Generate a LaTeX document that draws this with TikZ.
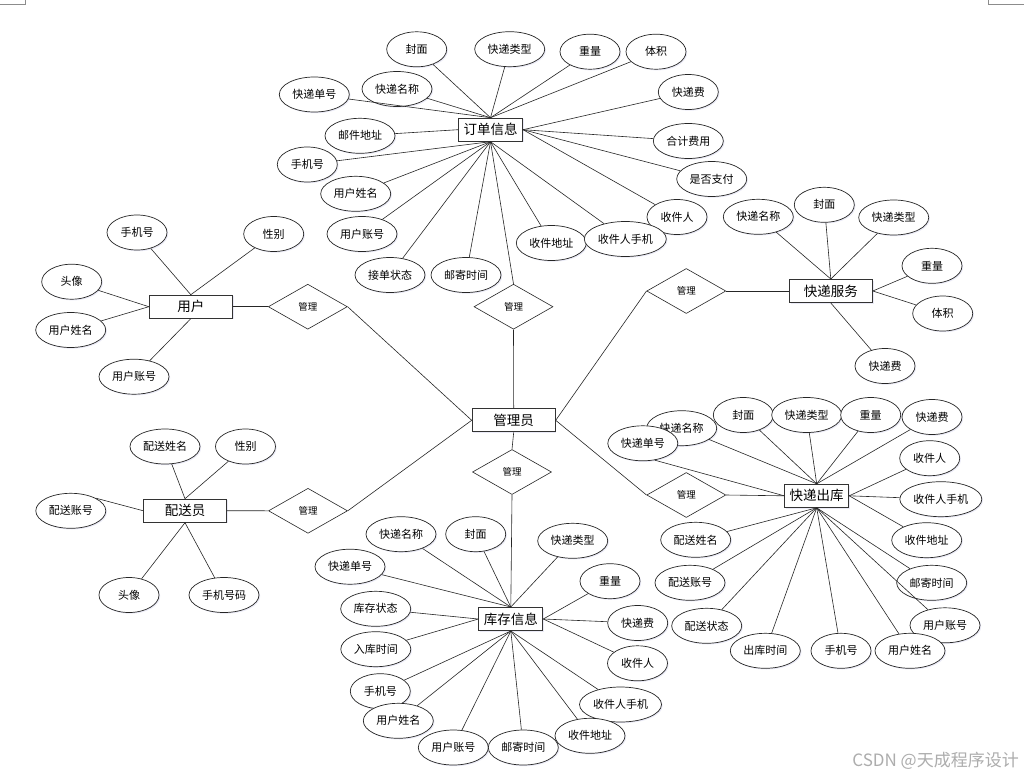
\documentclass[tikz,border=0pt]{standalone}
\usepackage{fontspec}
\setmainfont{Noto Sans CJK SC}
\usetikzlibrary{shapes.geometric,shadows}
\begin{document}
\begin{tikzpicture}[x=1pt,y=-1pt,
  shd/.style={drop shadow={shadow xshift=1.2pt,shadow yshift=-1.2pt,fill=black!40!blue!50,opacity=0.16}},
  attr/.style={ellipse,draw=black!85,line width=0.7pt,fill=white,shd,minimum width=70pt,minimum height=35pt,inner sep=0pt,font=\fontsize{11}{11}\selectfont},
  a2/.style={attr,minimum width=60pt},
  a5/.style={attr,minimum width=82pt},
  ent/.style={rectangle,draw=black!80,line width=1pt,fill=white,shd,minimum width=83pt,minimum height=23pt,inner sep=0pt,font=\fontsize{13.5}{13.5}\selectfont},
  rel/.style={diamond,draw=black!85,line width=0.6pt,fill=white,minimum width=79pt,minimum height=45pt,inner sep=0pt,font=\fontsize{9.5}{9.5}\selectfont},
  ln/.style={draw=black!85,line width=0.6pt}
]
\fill[white] (0,0) rectangle (1024,779);
\path[use as bounding box] (0,0) rectangle (1024,779);
\draw[black!45,line width=0.6pt] (0,4.5) -- (25,4.5) -- (25,0);
\draw[black!45,line width=0.6pt] (1024,4.5) -- (988,4.5) -- (988,0);

% ---------- 订单信息 ----------
\node[ent,minimum width=64pt] (ord) at (490.5,129.7) {订单信息};
\node[a2] (o1) at (416.7,49.3) {封面};
\node[attr] (o2) at (509.7,49.2) {快递类型};
\node[a2] (o3) at (590,51.7) {重量};
\node[a2] (o4) at (656,51.7) {体积};
\node[a2] (o5) at (688.3,92) {快递费};
\node[attr] (o6) at (688.3,141) {合计费用};
\node[attr] (o7) at (711.7,179) {是否支付};
\node[a2] (o8) at (677,217) {收件人};
\node[attr] (o10) at (551.3,243) {收件地址};
\node[a5] (o9) at (625.3,239) {收件人手机};
\node[attr] (o11) at (466,275) {邮寄时间};
\node[attr] (o12) at (390,275) {接单状态};
\node[attr] (o13) at (362,234) {用户账号};
\node[attr] (o14) at (355.7,193.8) {用户姓名};
\node[a2] (o15) at (307.3,164.5) {手机号};
\node[attr] (o16) at (360,135.8) {邮件地址};
\node[attr] (o17) at (314.3,94.5) {快递单号};
\node[attr] (o18) at (397,89) {快递名称};

% ---------- 用户 ----------
\node[ent] (usr) at (190.8,306.7) {用户};
\node[a2] (u1) at (137,232.5) {手机号};
\node[a2] (u2) at (273.7,234) {性别};
\node[a2] (u3) at (71.7,281.7) {头像};
\node[attr] (u4) at (70.7,330) {用户姓名};
\node[attr] (u5) at (134,376.7) {用户账号};

% ---------- 配送员 ----------
\node[ent] (dlv) at (185,510.7) {配送员};
\node[attr] (d1) at (165,446.5) {配送姓名};
\node[a2] (d2) at (245.5,446.5) {性别};
\node[attr] (d3) at (70.8,510.8) {配送账号};
\node[a2] (d4) at (129,595) {头像};
\node[attr] (d5) at (224,595) {手机号码};

% ---------- 管理员 ----------
\node[ent] (adm) at (513.7,420.3) {管理员};

% ---------- 快递服务 ----------
\node[ent] (svc) at (830.8,291) {快递服务};
\node[attr] (s1) at (758.3,216.8) {快递名称};
\node[a2] (s2) at (824.3,204.8) {封面};
\node[attr] (s3) at (893.7,217.5) {快递类型};
\node[a2] (s4) at (932,265.8) {重量};
\node[a2] (s5) at (942.7,313.5) {体积};
\node[a2] (s6) at (885,366) {快递费};

% ---------- 快递出库 ----------
\node[ent,minimum width=64pt] (out) at (816.7,495.8) {快递出库};
\node[attr] (t1) at (681.7,428.2) {快递名称};
\node[attr] (t2) at (642.8,443.3) {快递单号};
\node[a2] (t3) at (743.3,415) {封面};
\node[attr] (t4) at (806.7,415) {快递类型};
\node[a2] (t5) at (870.7,415) {重量};
\node[a2] (t6) at (932,417) {快递费};
\node[a2] (t7) at (929.7,458.2) {收件人};
\node[a5] (t8) at (940.8,499.2) {收件人手机};
\node[attr] (t9) at (926.7,540.2) {收件地址};
\node[attr] (t10) at (931.7,582.8) {邮寄时间};
\node[attr] (t11) at (945,625.3) {用户账号};
\node[attr] (t12) at (910,650.8) {用户姓名};
\node[a2] (t13) at (841,650.8) {手机号};
\node[attr] (t14) at (765.3,650.8) {出库时间};
\node[attr] (t15) at (706.7,625.8) {配送状态};
\node[attr] (t16) at (690,582.8) {配送账号};
\node[attr] (t17) at (695.7,539.8) {配送姓名};

% ---------- 库存信息 ----------
\node[ent,minimum width=64pt] (stk) at (510.8,619) {库存信息};
\node[attr] (k1) at (401,534.2) {快递名称};
\node[a2] (k2) at (475.7,534.2) {封面};
\node[attr] (k3) at (572.7,540.8) {快递类型};
\node[attr] (k4) at (350,566.7) {快递单号};
\node[a2] (k5) at (610,581.2) {重量};
\node[attr] (k6) at (375.7,608.8) {库存状态};
\node[a2] (k7) at (637.7,623) {快递费};
\node[attr] (k8) at (375.8,649.2) {入库时间};
\node[a2] (k9) at (637.5,663.3) {收件人};
\node[a2] (k10) at (380.3,691.2) {手机号};
\node[attr] (k11) at (398.3,720.8) {用户姓名};
\node[a5] (k12) at (620.5,704.5) {收件人手机};
\node[attr] (k15) at (590,735.8) {收件地址};
\node[attr] (k13) at (453.3,747.5) {用户账号};
\node[attr] (k14) at (523.3,747.5) {邮寄时间};

% ---------- 关系 ----------
\node[rel] (r1) at (513.5,306.7) {管理};
\node[rel] (r2) at (307.8,306.7) {管理};
\node[rel] (r3) at (308,510.8) {管理};
\node[rel] (r4) at (686.3,291) {管理};
\node[rel] (r5) at (686.3,495) {管理};
\node[rel] (r6) at (512,472) {管理};

% ---------- 连线 ----------
\foreach \a in {o1,o2,o3,o4,o17,o18} \draw[ln] (\a) -- (ord.north);
\foreach \a in {o5,o6,o7,o8} \draw[ln] (\a) -- (ord.east);
\foreach \a in {o9,o10,o11,o12,o13,o14,o15} \draw[ln] (\a) -- (ord.south);
\draw[ln] (o16) -- (ord.west);

\foreach \a in {u1,u2} \draw[ln] (\a) -- (usr.north);
\foreach \a in {u3,u4} \draw[ln] (\a) -- (usr.west);
\draw[ln] (u5) -- (usr.south);

\foreach \a in {d1,d2} \draw[ln] (\a) -- (dlv.north);
\draw[ln] (d3.27) -- (dlv.west);
\foreach \a in {d4,d5} \draw[ln] (\a) -- (dlv.south);

\foreach \a in {s1,s2,s3} \draw[ln] (\a) -- (svc.north);
\foreach \a in {s4,s5} \draw[ln] (\a) -- (svc.east);
\draw[ln] (s6) -- (svc.south);

\foreach \a in {t1,t3,t4,t5,t6} \draw[ln] (\a) -- (out.north);
\draw[ln] (t2.-55) -- (out.west);
\foreach \a in {t7,t8,t9} \draw[ln] (\a) -- (out.east);
\foreach \a in {t10,t11,t12,t13,t14,t15,t16,t17} \draw[ln] (\a) -- (out.south);

\foreach \a in {k1,k2,k3,k4} \draw[ln] (\a) -- (stk.north);
\foreach \a in {k5,k7,k9} \draw[ln] (\a) -- (stk.east);
\foreach \a in {k6,k8} \draw[ln] (\a) -- (stk.west);
\foreach \a in {k10,k11,k12,k13,k14,k15} \draw[ln] (\a) -- (stk.south);

\draw[ln] (adm.north) -- (r1.south);
\draw[ln] (r1.north) -- (ord.south);
\draw[ln] (adm.west) -- (r2.east);
\draw[ln] (r2.west) -- (usr.east);
\draw[ln] (adm.west) -- (r3.east);
\draw[ln] (r3.west) -- (dlv.east);
\draw[ln] (adm.east) -- (r4.west);
\draw[ln] (r4.east) -- (svc.west);
\draw[ln] (adm.east) -- (r5.west);
\draw[ln] (r5.east) -- (out.west);
\draw[ln] (adm.south) -- (r6.north);
\draw[ln] (r6.south) -- (stk.north);

\node[anchor=east,text=black!32,font=\fontsize{17}{17}\selectfont,inner sep=0pt] (wm) at (1019,761) {CSDN @天成程序设计};
\end{tikzpicture}
\end{document}
